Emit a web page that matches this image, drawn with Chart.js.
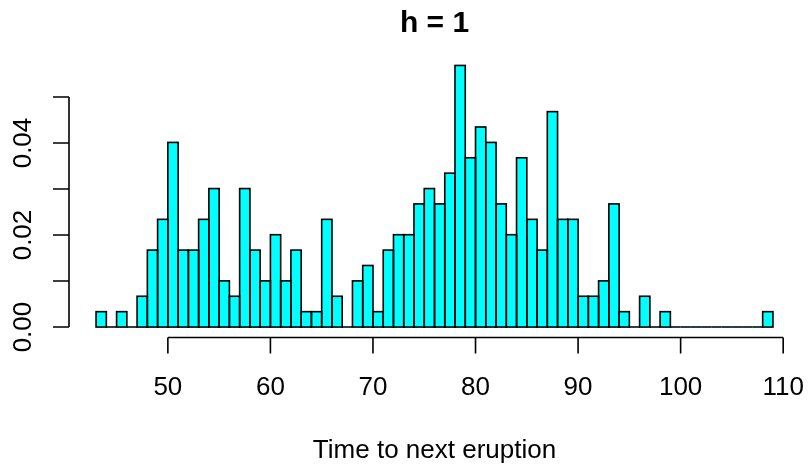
<!DOCTYPE html>
<html>
<head>
<meta charset="utf-8">
<script src="https://cdn.jsdelivr.net/npm/chart.js@4"></script>
<style>
html,body{margin:0;padding:0;background:#fff;}
#wrap{width:811px;height:466px;}
</style>
</head>
<body>
<div id="wrap"><canvas id="c" width="811" height="466"></canvas></div>
<script>
// Histogram bins (left edges, width 1) and density values
const binLeft = [43,44,45,46,47,48,49,50,51,52,53,54,55,56,57,58,59,60,61,62,63,64,65,66,67,68,69,70,71,72,73,74,75,76,77,78,79,80,81,82,83,84,85,86,87,88,89,90,91,92,93,94,95,96,97,98,99,100,101,102,103,104,105,106,107,108];
const density = [0.00334,0,0.00334,0,0.00669,0.01672,0.02341,0.04013,0.01672,0.01672,0.02341,0.03010,0.01003,0.00669,0.03010,0.01672,0.01003,0.02007,0.01003,0.01672,0.00334,0.00334,0.02341,0.00669,0,0.01003,0.01338,0.00334,0.01672,0.02007,0.02007,0.02676,0.03010,0.02676,0.03344,0.05686,0.03679,0.04348,0.04013,0.02676,0.02007,0.03679,0.02341,0.01672,0.04682,0.02341,0.02341,0.00669,0.00669,0.01003,0.02676,0.00334,0,0.00669,0,0.00334,0,0,0,0,0,0,0,0,0,0.00334];
const binWidth = 1;
const xTicks = [50,60,70,80,90,100,110];
const yTicks = [0,0.01,0.02,0.03,0.04,0.05];
const yTickLabels = ["0.00","","0.02","","0.04",""];
const titleText = "h = 1";
const xLabel = "Time to next eruption";

const FONT = '"Liberation Sans", Arial, Helvetica, sans-serif';

const points = binLeft.map((b, i) => ({x: b + binWidth / 2, y: density[i]}));
const xMin = 40.36, xMax = 111.64, yMin = -0.002274, yMax = 0.05913;

const rPlot = {
  id: 'rPlot',
  afterDatasetsDraw(chart) {
    const ctx = chart.ctx;
    const meta = chart.getDatasetMeta(0);
    ctx.save();
    ctx.strokeStyle = '#000';
    ctx.lineWidth = 1.6;
    meta.data.forEach(el => {
      const p = el.getProps(['x','y','base','width'], true);
      const l = p.x - p.width / 2;
      ctx.strokeRect(l, Math.min(p.y, p.base), p.width, Math.abs(p.base - p.y));
    });
    ctx.restore();
  },
  afterDraw(chart) {
    const ctx = chart.ctx;
    const xs = chart.scales.x, ys = chart.scales.y;
    const ca = chart.chartArea;
    ctx.save();
    ctx.strokeStyle = '#000';
    ctx.fillStyle = '#000';
    ctx.lineWidth = 1.6;
    const tick = 16;
    // x axis
    const xAxisY = ca.bottom;
    ctx.beginPath();
    ctx.moveTo(xs.getPixelForValue(xTicks[0]), xAxisY);
    ctx.lineTo(xs.getPixelForValue(xTicks[xTicks.length - 1]), xAxisY);
    xTicks.forEach(t => {
      const px = xs.getPixelForValue(t);
      ctx.moveTo(px, xAxisY);
      ctx.lineTo(px, xAxisY + tick);
    });
    ctx.stroke();
    ctx.font = '26px ' + FONT;
    ctx.textAlign = 'center';
    ctx.textBaseline = 'alphabetic';
    xTicks.forEach(t => {
      ctx.fillText(String(t), xs.getPixelForValue(t), 395);
    });
    // y axis
    const yAxisX = ca.left;
    ctx.beginPath();
    ctx.moveTo(yAxisX, ys.getPixelForValue(yTicks[0]));
    ctx.lineTo(yAxisX, ys.getPixelForValue(yTicks[yTicks.length - 1]));
    yTicks.forEach(t => {
      const py = ys.getPixelForValue(t);
      ctx.moveTo(yAxisX, py);
      ctx.lineTo(yAxisX - tick, py);
    });
    ctx.stroke();
    yTicks.forEach((t, i) => {
      if (!yTickLabels[i]) return;
      const py = ys.getPixelForValue(t);
      ctx.save();
      ctx.translate(30.5, py);
      ctx.rotate(-Math.PI / 2);
      ctx.textAlign = 'center';
      ctx.textBaseline = 'alphabetic';
      ctx.fillText(yTickLabels[i], 0, 0);
      ctx.restore();
    });
    // axis title
    const cx = (ca.left + ca.right) / 2;
    ctx.textAlign = 'center';
    ctx.fillText(xLabel, cx, 458);
    // main title
    ctx.font = 'bold 30px ' + FONT;
    ctx.fillText(titleText, cx, 32);
    ctx.restore();
  }
};

new Chart(document.getElementById('c'), {
  type: 'bar',
  data: {
    datasets: [{
      data: points,
      backgroundColor: '#00FFFF',
      borderWidth: 0,
      barPercentage: 1,
      categoryPercentage: 1
    }]
  },
  options: {
    responsive: false,
    animation: false,
    devicePixelRatio: 1,
    layout: {padding: {left: 69, right: 11, top: 55, bottom: 128.5}},
    plugins: {legend: {display: false}, tooltip: {enabled: false}, title: {display: false}},
    scales: {
      x: {type: 'linear', min: xMin, max: xMax, offset: false, display: false},
      y: {type: 'linear', min: yMin, max: yMax, display: false}
    }
  },
  plugins: [rPlot]
});
</script>
</body>
</html>
